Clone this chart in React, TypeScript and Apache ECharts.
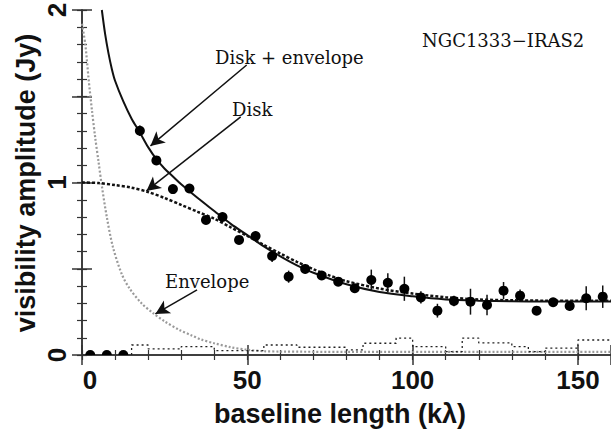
import React, { useEffect, useRef } from "react";
import * as echarts from "echarts";

// ---- data ----
const X_TICK_LABELS = [0, 50, 100, 150];
const Y_TICK_LABELS = [0, 1, 2];

// visibility bins (kλ), amplitudes (Jy) and 1σ errors
const BINS = [17.5, 22.5, 27.5, 32.5, 37.5, 42.5, 47.5, 52.5, 57.5, 62.5, 67.5, 72.5, 77.5, 82.5, 87.5, 92.5, 97.5, 102.5, 107.5, 112.5, 117.5, 122.5, 127.5, 132.5, 137.5, 142.5, 147.5, 152.5, 157.5];
const AMPLITUDE = [1.30, 1.128, 0.962, 0.965, 0.783, 0.80, 0.667, 0.69, 0.574, 0.454, 0.499, 0.461, 0.425, 0.387, 0.435, 0.419, 0.384, 0.334, 0.257, 0.313, 0.309, 0.29, 0.373, 0.344, 0.257, 0.306, 0.284, 0.329, 0.338];
const ERRORS = [0.03, 0.02, 0.02, 0.02, 0.02, 0.02, 0.02, 0.025, 0.035, 0.035, 0.025, 0.025, 0.025, 0.025, 0.06, 0.055, 0.07, 0.035, 0.04, 0.03, 0.075, 0.06, 0.05, 0.035, 0.02, 0.025, 0.025, 0.07, 0.065];
const EMPTY_BINS = [2.5, 7.5, 12.5];

// model: disk + envelope
const TOTAL_X = [6, 7, 8, 9, 10, 12.5, 15, 17.5, 20, 22.5, 25, 27.5, 30, 35, 40, 45, 50, 55, 60, 65, 70, 80, 90, 100, 110, 120, 130, 140, 150, 160];
const TOTAL_Y = [2.0, 1.86, 1.75, 1.66, 1.59, 1.47, 1.37, 1.29, 1.205, 1.135, 1.08, 1.035, 0.99, 0.91, 0.835, 0.76, 0.695, 0.63, 0.572, 0.52, 0.477, 0.41, 0.365, 0.34, 0.322, 0.315, 0.312, 0.31, 0.31, 0.31];
// model: disk only
const DISK_X = [0, 5, 10, 15, 20, 25, 30, 35, 40, 45, 50, 55, 60, 65, 70, 75, 80, 90, 100, 110, 120, 130, 140, 150, 160];
const DISK_Y = [1.0, 0.997, 0.985, 0.97, 0.945, 0.91, 0.87, 0.83, 0.79, 0.74, 0.69, 0.638, 0.588, 0.54, 0.497, 0.46, 0.428, 0.385, 0.356, 0.335, 0.322, 0.317, 0.315, 0.314, 0.314];
// model: envelope only
const ENV_X = [0, 1, 2, 3, 4, 5, 6, 7.5, 9.3, 12, 14.4, 18, 21.5, 25, 29.5, 33, 36, 40, 45, 50, 55, 60, 80, 160];
const ENV_Y = [1.92, 1.8, 1.6, 1.42, 1.26, 1.12, 0.98, 0.8, 0.63, 0.47, 0.385, 0.3, 0.243, 0.195, 0.145, 0.115, 0.09, 0.068, 0.045, 0.03, 0.022, 0.02, 0.018, 0.018];
// zero-signal expectation histogram (left bin edges and levels)
const HIST_EDGES = [15, 20, 30, 40, 55, 65, 80, 85, 95, 100, 110, 115, 120, 130, 135, 140, 150, 160];
const HIST_VALUES = [0.058, 0.035, 0.048, 0.025, 0.058, 0.045, 0.03, 0.068, 0.098, 0.048, 0.02, 0.098, 0.07, 0.048, 0.02, 0.04, 0.087, 0.087];

const TITLE = "NGC1333\u2212IRAS2";
const X_NAME = "baseline length (k\u03bb)";
const Y_NAME = "visibility amplitude (Jy)";

const SANS = '"Liberation Sans", Arial, sans-serif';
const SERIF = '"DejaVu Serif", serif';

export default function App() {
  const ref = useRef<HTMLDivElement>(null);

  useEffect(() => {
    if (!ref.current) return;
    const chart = echarts.init(ref.current, null, { renderer: "svg" });

    const axisLine = { show: true, lineStyle: { color: "#333", width: 1.5 } };
    const minorTick = { show: true, inside: true, length: 5, lineStyle: { color: "#333", width: 1.2 } };
    const majorTick = { show: true, inside: true, length: 10, lineStyle: { color: "#333", width: 1.5 } };
    const baseX = { type: "value", min: 0, max: 160, splitLine: { show: false } };
    const baseY = { type: "value", min: 0, max: 2, splitLine: { show: false } };
    const labelFont = { fontSize: 26, fontWeight: "bold", fontFamily: SANS, color: "#111" };

    const xAxis = [
      {
        ...baseX, position: "bottom", interval: 10, axisLine, axisTick: minorTick,
        axisLabel: {
          show: true, margin: 12, ...labelFont,
          showMaxLabel: false,
          rich: { first: { ...labelFont, padding: [0, 0, 0, 16] } },
          formatter: (v: number) => {
            const r = Math.round(v);
            if (Math.abs(v - r) > 1e-6 || !X_TICK_LABELS.includes(r)) return "";
            return r === X_TICK_LABELS[0] ? `{first|${r}}` : String(r);
          },
        },
      },
      { ...baseX, position: "bottom", interval: 50, axisLine: { show: false }, axisTick: majorTick, axisLabel: { show: false } },
      { ...baseX, position: "top", interval: 10, axisLine, axisTick: minorTick, axisLabel: { show: false } },
      { ...baseX, position: "top", interval: 50, axisLine: { show: false }, axisTick: majorTick, axisLabel: { show: false } },
    ];
    const yAxis = [
      { ...baseY, position: "left", interval: 0.1, axisLine, axisTick: minorTick, axisLabel: { show: false } },
      { ...baseY, position: "left", interval: 0.5, axisLine: { show: false }, axisTick: majorTick, axisLabel: { show: false } },
      { ...baseY, position: "right", interval: 0.1, axisLine, axisTick: minorTick, axisLabel: { show: false } },
      { ...baseY, position: "right", interval: 0.5, axisLine: { show: false }, axisTick: majorTick, axisLabel: { show: false } },
    ];

    const zip = (xs: number[], ys: number[]) => xs.map((x, i) => [x, ys[i]]);
    const histData: number[][] = [[HIST_EDGES[0], 0]].concat(zip(HIST_EDGES, HIST_VALUES));

    const arrowLine = (from: number[], to: number[]) => [{ coord: from }, { coord: to }];

    const staticGraphic: any[] = [
      { type: "text", x: 422, y: 40, style: { text: TITLE, fontSize: 18, fontFamily: SERIF, fill: "#111", align: "left", verticalAlign: "middle" } },
      { type: "text", x: 215, y: 57, style: { text: "Disk + envelope", fontSize: 18, fontFamily: SERIF, fill: "#111", align: "left", verticalAlign: "middle" } },
      { type: "text", x: 232, y: 109, style: { text: "Disk", fontSize: 18, fontFamily: SERIF, fill: "#111", align: "left", verticalAlign: "middle" } },
      { type: "text", x: 165, y: 281, style: { text: "Envelope", fontSize: 18, fontFamily: SERIF, fill: "#111", align: "left", verticalAlign: "middle" } },
      { type: "text", x: 340, y: 414, style: { text: X_NAME, fontSize: 27, fontWeight: "bold", fontFamily: SANS, fill: "#111", align: "center", verticalAlign: "middle" } },
      { type: "text", x: 26, y: 183, rotation: Math.PI / 2, style: { text: Y_NAME, fontSize: 27, fontWeight: "bold", fontFamily: SANS, fill: "#111", align: "center", verticalAlign: "middle" } },
    ];

    chart.setOption({
      animation: false,
      grid: { left: 82, top: 10, width: 533, height: 345, containLabel: false },
      xAxis,
      yAxis,
      series: [
        {
          type: "line", data: zip(ENV_X, ENV_Y), smooth: 0.3, symbol: "none",
          lineStyle: { color: "#9a9a9a", width: 2.2, type: [2, 2] }, z: 2,
        },
        {
          type: "line", data: histData, step: "end", symbol: "none",
          lineStyle: { color: "#222", width: 1.3, type: [2, 3] }, z: 2,
        },
        {
          type: "line", data: zip(DISK_X, DISK_Y), smooth: 0.3, symbol: "none",
          lineStyle: { color: "#111", width: 2.5, type: [3, 2] }, z: 3,
        },
        {
          type: "line", data: zip(TOTAL_X, TOTAL_Y), smooth: 0.3, symbol: "none",
          lineStyle: { color: "#111", width: 2 }, z: 4,
          markLine: {
            silent: true, symbol: ["none", "arrow"], symbolSize: [11, 14],
            lineStyle: { color: "#111", width: 1.5, type: "solid" },
            label: { show: false },
            data: [
              arrowLine([49.8, 1.681], [20.7, 1.212]),
              arrowLine([48.0, 1.38], [19.5, 0.951]),
              arrowLine([34.8, 0.377], [22.2, 0.238]),
            ],
          },
        },
        {
          type: "custom", z: 5,
          data: BINS.map((b, i) => [b, AMPLITUDE[i], ERRORS[i]]),
          renderItem: (params: any, api: any) => {
            const x = api.value(0), y = api.value(1), e = api.value(2);
            const p1 = api.coord([x, y - e]);
            const p2 = api.coord([x, y + e]);
            return { type: "line", shape: { x1: p1[0], y1: p1[1], x2: p2[0], y2: p2[1] }, style: { stroke: "#111", lineWidth: 1.5 } };
          },
        },
        {
          type: "scatter", z: 6, symbol: "circle", symbolSize: 10,
          itemStyle: { color: "#000", opacity: 1 },
          data: zip(BINS, AMPLITUDE),
        },
        {
          type: "custom", z: 6,
          data: EMPTY_BINS.map((b) => [b, 0]),
          renderItem: (params: any, api: any) => {
            const p = api.coord([api.value(0), api.value(1)]);
            return {
              type: "sector",
              shape: { cx: p[0], cy: p[1], r: 5, r0: 0, startAngle: Math.PI, endAngle: 2 * Math.PI, clockwise: true },
              style: { fill: "#000" },
            };
          },
        },
      ],
      graphic: staticGraphic,
    });

    // rotated y tick labels, placed through the axis scale
    const yLabels = Y_TICK_LABELS.map((v) => {
      const py = chart.convertToPixel({ yAxisIndex: 0 }, v) as number;
      return {
        type: "text", x: 57, y: py, rotation: Math.PI / 2,
        style: { text: String(v), fontSize: 26, fontWeight: "bold", fontFamily: SANS, fill: "#111", align: "center", verticalAlign: "middle" },
      };
    });
    chart.setOption({ graphic: staticGraphic.concat(yLabels) });

    return () => chart.dispose();
  }, []);

  return <div ref={ref} style={{ position: "absolute", left: 0, top: 0, width: 611, height: 435 }} />;
}
